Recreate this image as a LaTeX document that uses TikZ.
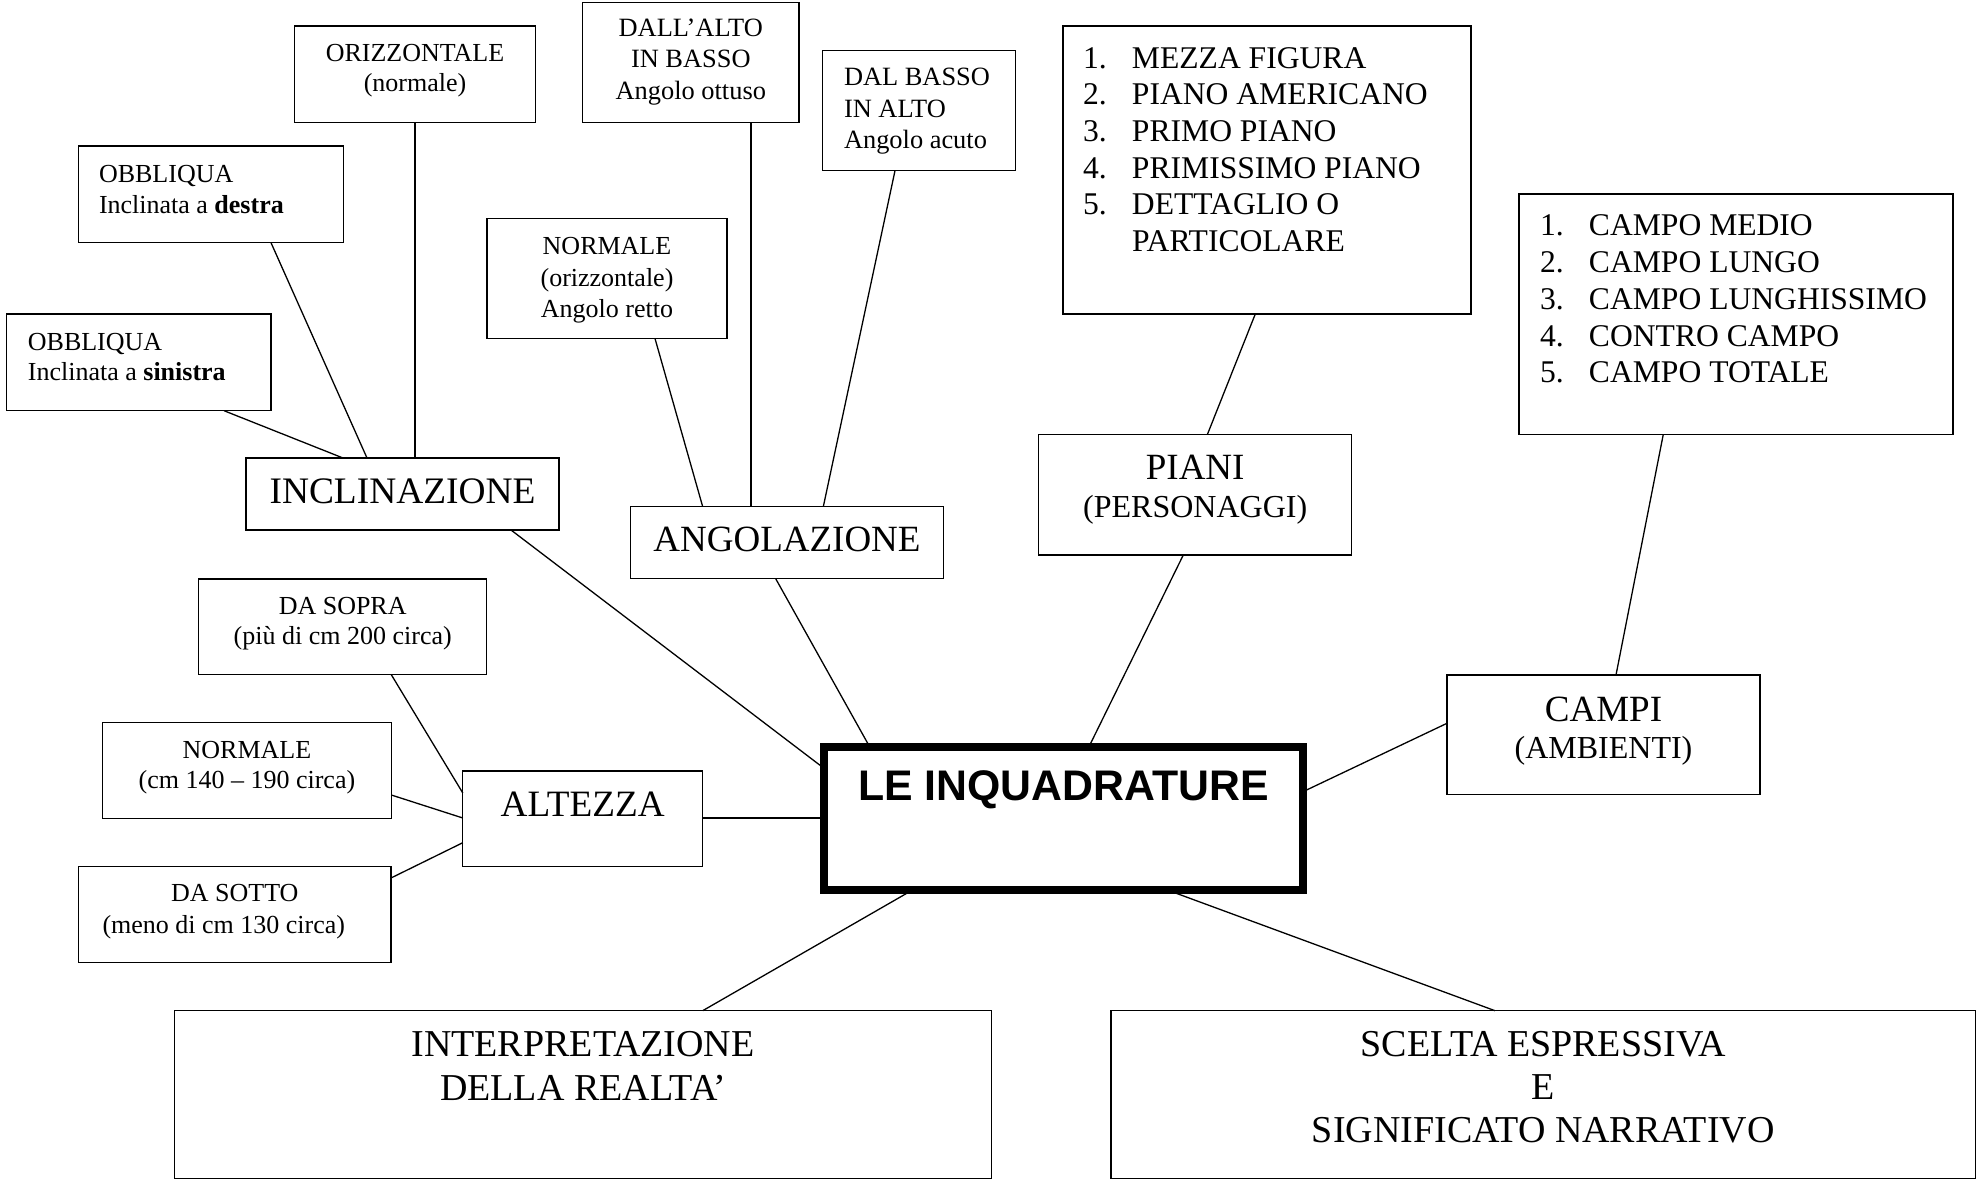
\documentclass[tikz,border=0pt]{standalone}
\usepackage{fontspec}
\setmainfont{Liberation Serif}
\newfontfamily\titlefont{Liberation Sans}
\usetikzlibrary{calc,fit}
\tikzset{
  box/.style={draw, line width=0.65pt, inner sep=0pt, outer sep=0pt, rectangle},
  mainbox/.style={box, line width=4pt},
  link/.style={draw, line width=0.65pt},
  txt/.style={anchor=base, inner sep=0pt, outer sep=0pt},
  ltxt/.style={anchor=base west, inner sep=0pt, outer sep=0pt},
}
\newcommand{\ctr}[1]{\begin{tabular}[t]{@{}c@{}}#1\end{tabular}}
\newcommand{\lft}[1]{\begin{tabular}[t]{@{}l@{}}#1\end{tabular}}
\newcommand{\num}[1]{\makebox[24.5pt][l]{#1}}
\begin{document}
\begin{tikzpicture}[x=0.5pt,y=-0.5pt]
\useasboundingbox (0,0) rectangle (1978,1181);

% ---------- boxes ----------
\node[box, fit={(294.7,26) (535.3,122.3)}] (orz) {};
\node[box, fit={(582.7,2.7) (799,122.7)}] (dallalto) {};
\node[box, fit={(822.7,50.7) (1015.7,170.7)}] (dalbasso) {};
\node[box, fit={(1063,26) (1471,314)}] (pianilist) {};
\node[box, fit={(78.6,146) (343.6,242.7)}] (obbdx) {};
\node[box, fit={(487,218.7) (727,338.5)}] (normang) {};
\node[box, fit={(1519,194) (1953,434.3)}] (campilist) {};
\node[box, fit={(6.4,314) (271,410.7)}] (obbsx) {};
\node[box, fit={(246,458) (559,530)}] (incl) {};
\node[box, fit={(630.7,506.7) (943.3,578.7)}] (ang) {};
\node[box, fit={(1038.7,434.7) (1351.7,555)}] (piani) {};
\node[box, fit={(198.7,579) (486.7,674.7)}] (dasopra) {};
\node[box, fit={(102.5,722.7) (391.3,818.7)}] (normalt) {};
\node[box, fit={(462.8,771) (702.6,866.7)}] (altezza) {};
\node[mainbox, fit={(823.6,746.7) (1303,890)}] (leinq) {};
\node[box, fit={(1447,675) (1760,794.3)}] (campi) {};
\node[box, fit={(78.6,866.7) (391,962.7)}] (dasotto) {};
\node[box, fit={(174.3,1010.7) (991.6,1178.7)}] (interp) {};
\node[box, fit={(1111,1010.7) (1975.5,1178.7)}] (scelta) {};

% ---------- texts ----------
\node[txt, font=\fontsize{13}{14.85}\selectfont] (torz) at (415,62) {\ctr{ORIZZONTALE\\(normale)}};
\node[txt, font=\fontsize{13.2}{15.65}\selectfont] (tdallalto) at (690.8,36.7) {\ctr{DALL’ALTO\\IN BASSO\\Angolo ottuso}};
\node[ltxt, font=\fontsize{13.2}{15.65}\selectfont] (tdalbasso) at (844,86) {\lft{DAL BASSO\\IN ALTO\\Angolo acuto}};
\node[txt, font=\fontsize{13}{15.75}\selectfont] (tnormang) at (607,255) {\ctr{NORMALE\\(orizzontale)\\Angolo retto}};
\node[ltxt, font=\fontsize{13}{15.5}\selectfont] (tobbdx) at (99,182.5) {\lft{OBBLIQUA\\Inclinata a \textbf{destra}}};
\node[ltxt, font=\fontsize{13}{15}\selectfont] (tobbsx) at (27.9,350.5) {\lft{OBBLIQUA\\Inclinata a \textbf{sinistra}}};
\node[txt, font=\fontsize{18.7}{20}\selectfont] (tincl) at (402.5,503.3) {INCLINAZIONE};
\node[txt, font=\fontsize{18.5}{20}\selectfont] (tang) at (787,551.7) {ANGOLAZIONE};
\node[txt, font=\fontsize{18.5}{18.65}\selectfont] (tpiani) at (1195.2,480) {\ctr{PIANI\\{\fontsize{16}{18}\selectfont (PERSONAGGI)}}};
\node[txt, font=\fontsize{18.5}{18.3}\selectfont] (tcampi) at (1603.5,721.7) {\ctr{CAMPI\\{\fontsize{16}{18}\selectfont (AMBIENTI)}}};
\node[txt, font=\fontsize{13}{15}\selectfont] (tdasopra) at (342.7,615) {\ctr{DA SOPRA\\(più di cm 200 circa)}};
\node[txt, font=\fontsize{13}{15}\selectfont] (tnormalt) at (246.9,758.3) {\ctr{NORMALE\\(cm 140 – 190 circa)}};
\node[txt, font=\fontsize{13}{15.8}\selectfont] (tdasotto) at (234.8,901.7) {\ctr{DA SOTTO\\(meno di cm 130 circa)\hspace*{11pt}}};
\node[txt, font=\fontsize{18.6}{20}\selectfont] (taltezza) at (582.7,816.7) {ALTEZZA};
\node[txt, font=\titlefont\bfseries\fontsize{21.4}{24}\selectfont] (tleinq) at (1063.3,801) {LE INQUADRATURE};
\node[txt, font=\fontsize{19}{21.65}\selectfont] (tinterp) at (583,1056.7) {\ctr{INTERPRETAZIONE\\DELLA REALTA’}};
\node[txt, font=\fontsize{19}{21.4}\selectfont] (tscelta) at (1543.3,1056.7) {\ctr{SCELTA ESPRESSIVA\\E\\SIGNIFICATO NARRATIVO}};
\node[ltxt, font=\fontsize{15.8}{18.3}\selectfont] (tpianilist) at (1083,68.3) {\lft{\num{1.}MEZZA FIGURA\\\num{2.}PIANO AMERICANO\\\num{3.}PRIMO PIANO\\\num{4.}PRIMISSIMO PIANO\\\num{5.}DETTAGLIO O\\\num{}PARTICOLARE}};
\node[ltxt, font=\fontsize{15.8}{18.35}\selectfont] (tcampilist) at (1540,236) {\lft{\num{1.}CAMPO MEDIO\\\num{2.}CAMPO LUNGO\\\num{3.}CAMPO LUNGHISSIMO\\\num{4.}CONTRO CAMPO\\\num{5.}CAMPO TOTALE}};

% ---------- connectors ----------
\draw[link] ($(obbsx.south west)+(217.6,0)$) -- ($(incl.north west)+(97,0)$);
\draw[link] ($(obbdx.south west)+(192.4,0)$) -- ($(incl.north west)+(121,0)$);
\draw[link] (orz.south) -- (orz.south |- incl.north);
\draw[link] ($(incl.south west)+(265,0)$) -- ($(leinq.north west)+(0,21.3)$);
\draw[link] ($(normang.south west)+(168,0)$) -- ($(ang.north west)+(72,0)$);
\draw[link] ($(dallalto.south west)+(168.3,0)$) -- ($(ang.north west)+(120.3,0)$);
\draw[link] ($(dalbasso.south west)+(72.3,0)$) -- ($(ang.north west)+(192.6,0)$);
\draw[link] ($(ang.south west)+(145,0)$) -- ($(leinq.north west)+(46,0)$);
\draw[link] ($(pianilist.south west)+(192.3,0)$) -- ($(piani.north west)+(168.6,0)$);
\draw[link] ($(piani.south west)+(144.6,0)$) -- ($(leinq.north west)+(265.4,0)$);
\draw[link] ($(campilist.south west)+(144.3,0)$) -- ($(campi.north west)+(169,0)$);
\draw[link] ($(campi.north west)+(0,48.3)$) -- ($(leinq.north east)+(0,45)$);
\draw[link] ($(dasopra.south west)+(192.6,0)$) -- ($(altezza.north west)+(0,22)$);
\draw[link] ($(normalt.north east)+(0,72.3)$) -- ($(altezza.north west)+(0,47)$);
\draw[link] ($(dasotto.north east)+(0,11.3)$) -- ($(altezza.north west)+(0,71.7)$);
\draw[link] ($(altezza.north east)+(0,47)$) -- ($(leinq.north west)+(0,71.3)$);
\draw[link] ($(leinq.south west)+(88.9,0)$) -- ($(interp.north west)+(528.4,0)$);
\draw[link] ($(leinq.south west)+(343.7,0)$) -- ($(scelta.north west)+(384,0)$);
\end{tikzpicture}
\end{document}
